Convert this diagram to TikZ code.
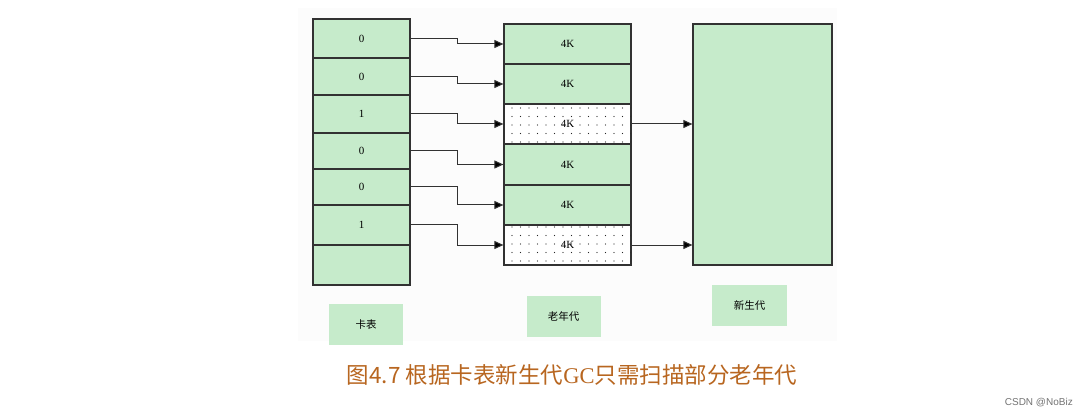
\documentclass[tikz,border=0pt]{standalone}
\usepackage{fontspec}
\setmainfont{Liberation Serif}
\newfontfamily\cjk{Noto Sans CJK SC}
\newfontfamily\wmfont{Liberation Sans}
\usetikzlibrary{arrows.meta,patterns.meta}
\definecolor{cellgreen}{RGB}{198,235,203}
\definecolor{edgegray}{RGB}{50,50,50}
\definecolor{captionbrown}{RGB}{184,102,32}
\definecolor{bgpale}{RGB}{252,252,252}
\tikzset{
  cell/.style={draw=edgegray, line width=1.2pt, fill=cellgreen, inner sep=0pt, font=\fontsize{11}{13}\selectfont},
  dotcell/.style={draw=edgegray, line width=1.2pt, fill=white, inner sep=0pt, font=\fontsize{11}{13}\selectfont,
    postaction={pattern={Dots[radius=0.55pt,distance=8.5pt,xshift=2pt,yshift=3pt]}, pattern color=black!85}},
  tag/.style={fill=cellgreen, inner sep=0pt, font=\cjk\fontsize{10.5}{12}\selectfont},
  arr/.style={draw=edgegray, line width=1pt, -{Triangle[length=9pt,width=8pt,fill=black]}},
}
\begin{document}
\begin{tikzpicture}[x=1pt,y=-1pt]
\useasboundingbox (0,0) rectangle (1088,417);
\fill[white] (0,0) rectangle (1088,417);
\fill[bgpale] (298,8) rectangle (837,341);
% card table
\foreach \n/\t/\b/\lab in {1/19/58/0,2/58/95/0,3/95/133/1,4/133/169/0,5/169/205/0,6/205/245/1,7/245/285/{}}{
  \pgfmathsetmacro{\hh}{\b-\t}
  \node[cell, minimum width=97pt, minimum height=\hh pt] (c\n) at (361.5,{(\t+\b)/2}) {\lab};
}
% old generation
\foreach \n/\t/\b/\s in {1/24/64/cell,2/64/104/cell,3/104/144/dotcell,4/144/185/cell,5/185/225/cell,6/225/265/dotcell}{
  \pgfmathsetmacro{\hh}{\b-\t}
  \node[\s, minimum width=127pt, minimum height=\hh pt] (o\n) at (567.5,{(\t+\b)/2}) {4K};
}
% young generation
\node[cell, minimum width=139pt, minimum height=241pt] (y) at (762.5,144.5) {};
% arrows
\coordinate (mx) at (457,0);
\foreach \n in {1,...,6}{
  \draw[arr] (c\n.east) -- (c\n.east -| mx) |- (o\n.west);
}
\draw[arr] (o3.east) -- (o3.east -| y.west);
\draw[arr] (o6.east) -- (o6.east -| y.west);
% labels
\node[tag, minimum width=74pt, minimum height=41pt] (lc) at (366,324.5) {卡表};
\node[tag, minimum width=74pt, minimum height=41pt] (lo) at (563.5,316.5) {老年代};
\node[tag, minimum width=75pt, minimum height=41pt] (ly) at (749.5,305.5) {新生代};
% caption
\node[text=captionbrown, font=\cjk\fontsize{22.5}{25}\selectfont, inner sep=0pt] (cap) at (572,375) {图4.7 根据卡表新生代{\rmfamily GC}只需扫描部分老年代};
% watermark
\node[text=black!55, font=\wmfont\fontsize{10}{12}\selectfont, anchor=east, inner sep=0pt] (wm) at (1073,403) {CSDN @NoBiz};
\end{tikzpicture}
\end{document}
